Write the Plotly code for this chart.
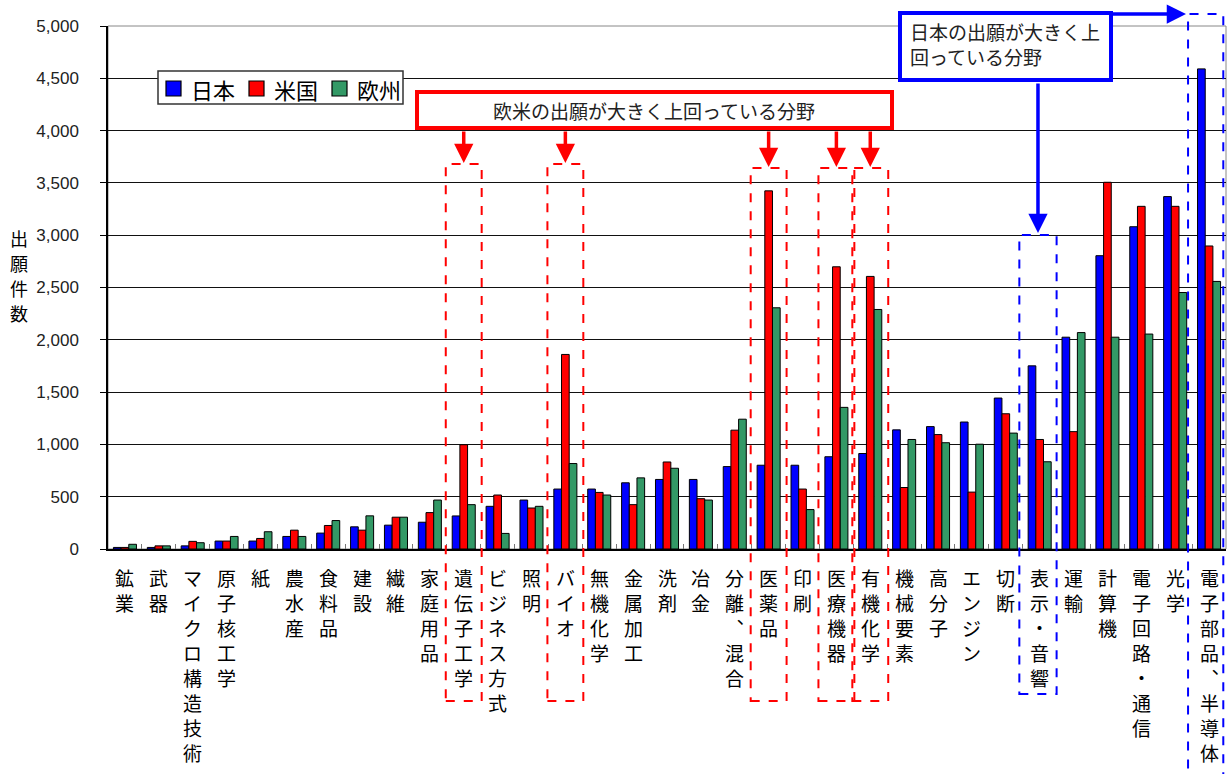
import plotly.graph_objects as go

# Patent application counts by technical field (Japan / US / Europe)
categories = ['鉱業', '武器', 'マイクロ構造技術', '原子核工学', '紙', '農水産', '食料品', '建設', '繊維',
              '家庭用品', '遺伝子工学', 'ビジネス方式', '照明', 'バイオ', '無機化学', '金属加工', '洗剤',
              '冶金', '分離、混合', '医薬品', '印刷', '医療機器', '有機化学', '機械要素', '高分子',
              'エンジン', '切断', '表示・音響', '運輸', '計算機', '電子回路・通信', '光学', '電子部品、半導体']

japan = [15, 15, 30, 76, 76, 120, 152, 212, 228, 256, 316, 408, 468, 573, 573, 633, 665, 665, 788, 801,
         801, 882, 913, 1139, 1170, 1214, 1443, 1751, 2025, 2804, 3081, 3369, 4590]
usa = [15, 30, 73, 76, 101, 180, 225, 180, 304, 348, 997, 516, 392, 1860, 541, 424, 832, 481, 1136, 3424,
       573, 2698, 2606, 588, 1094, 544, 1293, 1047, 1122, 3506, 3276, 3276, 2897]
europe = [45, 30, 60, 120, 165, 120, 272, 317, 304, 468, 424, 149, 408, 817, 516, 680, 772, 468, 1241, 2306,
          377, 1354, 2290, 1047, 1016, 1002, 1108, 834, 2069, 2025, 2055, 2452, 2558]

series_names = ['日本', '米国', '欧州']
series_colors = ['#0000FF', '#FF0000', '#339966']

y_ticks = [0, 500, 1000, 1500, 2000, 2500, 3000, 3500, 4000, 4500, 5000]
y_title = '出願件数'

# fields highlighted by the two callout boxes
eu_us_fields = ['遺伝子工学', 'バイオ', '医薬品', '医療機器', '有機化学']
jp_fields = ['表示・音響', '電子部品、半導体']
eu_us_note = '欧米の出願が大きく上回っている分野'
jp_note = '日本の出願が大きく上<br>回っている分野'

W, H = 1232, 774
ML, MR, MT, MB = 108, 6, 26, 225
PW, PH = W - ML - MR, H - MT - MB
JP_FONT = 'Noto Sans CJK JP'


def xp(px):
    return (px - ML) / PW


def yp(py):
    return (H - MB - py) / PH


def cat_x(name, off=0.0):
    # paper x of a category centre (plus offset in category widths)
    i = categories.index(name)
    return (i + 0.5 + off) / len(categories)


fig = go.Figure()
for name, vals, col in zip(series_names, [japan, usa, europe], series_colors):
    fig.add_trace(go.Bar(x=categories, y=vals, name=name,
                         marker=dict(color=col, line=dict(color='black', width=1))))

annotations = []
shapes = []

# vertical category labels, one character per line
for cat in categories:
    chars = list(cat.replace('、', '︑'))
    for i, ch in enumerate(chars):
        annotations.append(dict(x=cat, xref='x', y=0, yref='y', text=ch, showarrow=False,
                                yanchor='middle', xanchor='center', yshift=-(28 + 25 * i),
                                font=dict(family=JP_FONT, size=19, color='black')))

# vertical y-axis title
for i, ch in enumerate(y_title):
    annotations.append(dict(x=xp(19), xref='paper', y=yp(238 + 25 * i), yref='paper', text=ch,
                            showarrow=False, xanchor='center', yanchor='middle',
                            font=dict(family=JP_FONT, size=18, color='black')))

# plot frame (top / right in grey)
shapes.append(dict(type='rect', xref='paper', yref='paper', x0=0, x1=1, y0=0, y1=1,
                   line=dict(color='#888888', width=1), layer='below'))

# legend box with colour swatches
shapes.append(dict(type='rect', xref='paper', yref='paper', x0=xp(158), x1=xp(403), y0=yp(104), y1=yp(71),
                   line=dict(color='#333333', width=1.5), fillcolor='white', layer='above'))
swatch_x = [166, 249, 332]
for sx, name, col in zip(swatch_x, series_names, series_colors):
    shapes.append(dict(type='rect', xref='paper', yref='paper', x0=xp(sx), x1=xp(sx + 15),
                       y0=yp(96), y1=yp(81), line=dict(color='black', width=1.2), fillcolor=col,
                       layer='above'))
    annotations.append(dict(x=xp(sx + 23), xref='paper', y=yp(89), yref='paper', text=name,
                            showarrow=False, xanchor='left', yanchor='middle',
                            font=dict(family=JP_FONT, size=22, color='black')))

# red callout: box, text, arrows and dashed outlines
shapes.append(dict(type='rect', xref='paper', yref='paper', x0=xp(417), x1=xp(892), y0=yp(128), y1=yp(92),
                   line=dict(color='#FF0000', width=4), fillcolor='white', layer='above'))
annotations.append(dict(x=xp(654), xref='paper', y=yp(110), yref='paper', text=eu_us_note, showarrow=False,
                        xanchor='center', yanchor='middle', font=dict(family=JP_FONT, size=19, color='#222222')))
for k, f in enumerate(eu_us_fields):
    top = 164 if k < 2 else 168
    shapes.append(dict(type='rect', xref='paper', yref='paper', x0=cat_x(f, -0.53), x1=cat_x(f, 0.53),
                       y0=yp(701), y1=yp(top), line=dict(color='#FF0000', width=2, dash='dash'),
                       layer='above'))
    annotations.append(dict(x=cat_x(f), xref='paper', y=yp(top - 1), yref='paper', text='', showarrow=True,
                            ax=0, ay=-(top - 1 - 130), arrowhead=2, arrowsize=1.1, arrowwidth=3.5,
                            arrowcolor='#FF0000', standoff=0, startstandoff=0))

# blue callout: box, text, arrows and dashed outlines
shapes.append(dict(type='rect', xref='paper', yref='paper', x0=xp(900), x1=xp(1111), y0=yp(80), y1=yp(13),
                   line=dict(color='#0000FF', width=4), fillcolor='white', layer='above'))
annotations.append(dict(x=xp(908), xref='paper', y=yp(44), yref='paper', text=jp_note, showarrow=False,
                        xanchor='left', yanchor='middle', align='left',
                        font=dict(family=JP_FONT, size=19, color='#222222')))
shapes.append(dict(type='rect', xref='paper', yref='paper', x0=cat_x(jp_fields[0], -0.6),
                   x1=cat_x(jp_fields[0], 0.5), y0=yp(694), y1=yp(235),
                   line=dict(color='#0000FF', width=2, dash='dash'), layer='above'))
shapes.append(dict(type='rect', xref='paper', yref='paper', x0=cat_x(jp_fields[1], -0.62),
                   x1=cat_x(jp_fields[1], 0.42), y0=yp(800), y1=yp(14),
                   line=dict(color='#0000FF', width=2, dash='dash'), layer='above'))
annotations.append(dict(x=cat_x(jp_fields[0], -0.05), xref='paper', y=yp(233), yref='paper', text='',
                        showarrow=True, ax=0, ay=-151, arrowhead=2, arrowsize=1.1, arrowwidth=3.5,
                        arrowcolor='#0000FF', standoff=0, startstandoff=0))
annotations.append(dict(x=xp(1186), xref='paper', y=yp(14), yref='paper', text='', showarrow=True,
                        ax=-76, ay=0, arrowhead=2, arrowsize=1.1, arrowwidth=3.5,
                        arrowcolor='#0000FF', standoff=0, startstandoff=0))

fig.update_layout(
    width=W, height=H,
    margin=dict(l=ML, r=MR, t=MT, b=MB, pad=0),
    paper_bgcolor='white', plot_bgcolor='white',
    barmode='group', bargap=0.32, bargroupgap=0,
    font=dict(family='Liberation Sans, Arial, sans-serif', color='#222222'),
    showlegend=False,
    xaxis=dict(type='category', range=[-0.5, len(categories) - 0.5], showticklabels=False,
               showline=True, linecolor='black', linewidth=1.5, ticks='inside', tickson='boundaries',
               ticklen=5, tickcolor='#777777', showgrid=False, zeroline=False),
    yaxis=dict(range=[0, 5000], tickvals=y_ticks, tickformat=',', showline=True, linecolor='black',
               linewidth=1.5, ticks='outside', ticklen=6, tickcolor='black', showgrid=True,
               gridcolor='#111111', gridwidth=1, zeroline=False,
               tickfont=dict(family='Liberation Sans, Arial, sans-serif', size=17, color='#222222'),
               ticklabelstandoff=18),
    annotations=annotations,
    shapes=shapes,
)

fig.write_html('out.html')
